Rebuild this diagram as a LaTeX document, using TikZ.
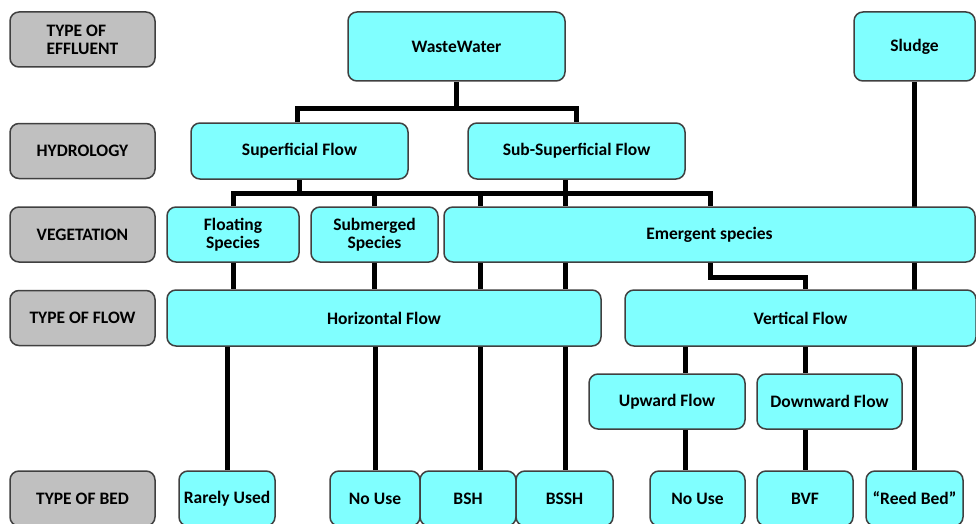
\documentclass[tikz,border=0pt]{standalone}
\usepackage{fontspec}
\setmainfont{Carlito}
\usetikzlibrary{backgrounds}

\definecolor{boxcyan}{RGB}{128,255,255}
\definecolor{boxgrey}{RGB}{192,192,192}
\definecolor{boxedge}{RGB}{64,64,64}

\tikzset{
  box/.style={draw=boxedge, line width=1.5pt, rounded corners=9pt, fill=boxcyan,
    font=\fontsize{17.5}{18}\selectfont\bfseries, align=center, inner sep=2pt},
  level/.style={box, fill=boxgrey, minimum width=145pt, minimum height=55pt},
  link/.style={line width=5pt}
}

\begin{document}
\begin{tikzpicture}[x=1pt, y=-1pt]
    \useasboundingbox (0,0) rectangle (976,524);

    % Left: level labels
    \node [level, align=left] (eff) at (82.5,39.5) {TYPE OF\\EFFLUENT};
    \node [level] (hyd) at (82.5,151) {HYDROLOGY};
    \node [level] (veg) at (82.5,234.5) {VEGETATION};
    \node [level] (flow) at (82.5,318) {TYPE OF FLOW};
    \node [level] (bed) at (82.5,498.5) {TYPE OF BED};

    % Effluent and hydrology
    \node [box, minimum width=217pt, minimum height=69pt] (ww) at (456.5,46.5) {WasteWater};
    \node [box, minimum width=121pt, minimum height=69pt] (sludge) at (914.5,46.5) {Sludge};
    \node [box, minimum width=217pt, minimum height=56pt] (sup) at (299.5,151) {Superficial Flow};
    \node [box, minimum width=217pt, minimum height=56pt] (sub) at (576.5,151) {Sub-Superficial Flow};

    % Vegetation
    \node [box, minimum width=132pt, minimum height=55pt] (float) at (233,234.5) {Floating\\Species};
    \node [box, minimum width=127pt, minimum height=55pt] (subm) at (374.5,234.5) {Submerged\\Species};
    \node [box, minimum width=531pt, minimum height=55pt] (emg) at (709.5,234.5) {Emergent species};

    % Type of flow
    \node [box, minimum width=434pt, minimum height=56pt] (hor) at (384,318) {Horizontal Flow};
    \node [box, minimum width=351pt, minimum height=56pt] (vert) at (800.5,318) {Vertical Flow};
    \node [box, minimum width=156pt, minimum height=55pt] (up) at (667,401.5) {Upward Flow};
    \node [box, minimum width=145pt, minimum height=55pt] (down) at (829.5,401.5) {Downward Flow};

    % Type of bed
    \node [box, minimum width=96pt, minimum height=55pt] (rare) at (227,498.5) {Rarely Used};
    \node [box, minimum width=90pt, minimum height=55pt] (nouse) at (375,498.5) {No Use};
    \node [box, minimum width=96pt, minimum height=55pt] (bsh) at (468,498.5) {BSH};
    \node [box, minimum width=97pt, minimum height=55pt] (bssh) at (564.5,498.5) {BSSH};
    \node [box, minimum width=95pt, minimum height=55pt] (nouse2) at (697.5,498.5) {No Use};
    \node [box, minimum width=96pt, minimum height=55pt] (bvf) at (805,498.5) {BVF};
    \node [box, minimum width=97pt, minimum height=55pt] (reed) at (914.5,498.5) {“Reed Bed”};

    % columns of the vertical links
    \coordinate (xA) at (480,0);
    \coordinate (xB) at (565,0);
    \coordinate (xC) at (710,0);
    \coordinate (xD) at (805,0);
    \coordinate (xF) at (685,0);

    \begin{scope}[on background layer]
    % Wastewater to hydrology
    \draw [link] (ww.south) -- ++(0,27) coordinate (wwbus);
    \draw [link] ([xshift=-2pt]sup.north) |- (wwbus) -| (sub.north);

    % Hydrology to vegetation
    \draw [link] (sup.south) -- ++(0,14) coordinate (vegbus);
    \draw [link] (float.north) |- (vegbus) -- (vegbus -| xC) -- (emg.north -| xC);
    \draw [link] (sub.south -| xB) -- (emg.north -| xB);
    \draw [link] (subm.north) -- (subm.north |- vegbus);
    \draw [link] (vegbus -| xA) -- (emg.north -| xA);

    % Vegetation to type of flow
    \draw [link] (float.south) -- (float.south |- hor.north);
    \draw [link] (subm.south) -- (subm.south |- hor.north);
    \draw [link] (emg.south -| xA) -- (hor.north -| xA);
    \draw [link] (emg.south -| xB) -- (hor.north -| xB);
    \draw [link] (emg.south -| xC) -- ++(0,15) -| (vert.north -| xD);

    % Sludge straight down
    \draw [link] (sludge.south) -- (reed.north);

    % Type of flow to type of bed
    \draw [link] (rare.north) -- (rare.north |- hor.south);
    \draw [link] (nouse.north) -- (nouse.north |- hor.south);
    \draw [link] (hor.south -| xA) -- (bsh.north -| xA);
    \draw [link] (hor.south -| xB) -- (bssh.north -| xB);
    \draw [link] (vert.south -| xF) -- (up.north -| xF);
    \draw [link] (up.south -| xF) -- (nouse2.north -| xF);
    \draw [link] (vert.south -| xD) -- (down.north -| xD);
    \draw [link] (down.south -| xD) -- (bvf.north);
    \end{scope}

\end{tikzpicture}
\end{document}
